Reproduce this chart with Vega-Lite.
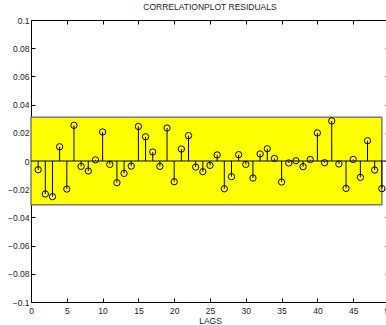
{
  "$schema": "https://vega.github.io/schema/vega-lite/v6.json",
  "autosize": "none",
  "width": 358,
  "height": 282,
  "padding": {"left": 31, "top": 20, "right": 0, "bottom": 23},
  "background": "white",
  "config": {
    "view": {"stroke": "black", "strokeWidth": 1},
    "font": "Liberation Sans",
    "axis": {"grid": false, "labelOverlap": false, "domainColor": "black", "tickColor": "black", "labelColor": "#222", "labelFont": "Liberation Sans", "labelFontSize": 8.5, "titleFont": "Liberation Sans", "titleFontSize": 8.5, "titleFontWeight": "normal", "titleColor": "#222"}
  },
  "title": {"text": "CORRELATIONPLOT RESIDUALS", "fontSize": 8.5, "fontWeight": "normal", "font": "Liberation Sans", "color": "#222", "offset": 5},
  "datasets": {
    "acf": [
      {"lag": 1, "r": -0.0062},
      {"lag": 2, "r": -0.0234},
      {"lag": 3, "r": -0.0253},
      {"lag": 4, "r": 0.0101},
      {"lag": 5, "r": -0.0199},
      {"lag": 6, "r": 0.0253},
      {"lag": 7, "r": -0.0038},
      {"lag": 8, "r": -0.0071},
      {"lag": 9, "r": 0.0008},
      {"lag": 10, "r": 0.0206},
      {"lag": 11, "r": -0.0024},
      {"lag": 12, "r": -0.0154},
      {"lag": 13, "r": -0.0088},
      {"lag": 14, "r": -0.0036},
      {"lag": 15, "r": 0.0245},
      {"lag": 16, "r": 0.0172},
      {"lag": 17, "r": 0.0064},
      {"lag": 18, "r": -0.0038},
      {"lag": 19, "r": 0.0234},
      {"lag": 20, "r": -0.0147},
      {"lag": 21, "r": 0.0085},
      {"lag": 22, "r": 0.018},
      {"lag": 23, "r": -0.0043},
      {"lag": 24, "r": -0.0076},
      {"lag": 25, "r": -0.0031},
      {"lag": 26, "r": 0.0043},
      {"lag": 27, "r": -0.0197},
      {"lag": 28, "r": -0.0111},
      {"lag": 29, "r": 0.0045},
      {"lag": 30, "r": -0.0024},
      {"lag": 31, "r": -0.0121},
      {"lag": 32, "r": 0.005},
      {"lag": 33, "r": 0.0087},
      {"lag": 34, "r": 0.0018},
      {"lag": 35, "r": -0.0149},
      {"lag": 36, "r": -0.0014},
      {"lag": 37, "r": 0.0002},
      {"lag": 38, "r": -0.004},
      {"lag": 39, "r": 0.001},
      {"lag": 40, "r": 0.0199},
      {"lag": 41, "r": -0.0012},
      {"lag": 42, "r": 0.0284},
      {"lag": 43, "r": -0.0021},
      {"lag": 44, "r": -0.0194},
      {"lag": 45, "r": 0.0011},
      {"lag": 46, "r": -0.0116},
      {"lag": 47, "r": 0.0144},
      {"lag": 48, "r": -0.0064},
      {"lag": 49, "r": -0.0196}
    ]
  },
  "resolve": {"axis": {"x": "independent", "y": "independent"}},
  "layer": [
    {
      "data": {"values": [{"x0": 0, "x1": 49, "lo": -0.031, "hi": 0.031}]},
      "mark": {"type": "rect", "fill": "#ffff00", "stroke": "#7a7a7a", "strokeWidth": 1.5},
      "encoding": {
        "x": {"field": "x0", "type": "quantitative", "scale": {"domain": [0, 50], "nice": false},
          "axis": {"orient": "bottom", "title": "LAGS", "values": [0,5,10,15,20,25,30,35,40,45,50], "format": "d", "tickSize": -4, "labelPadding": 8, "titlePadding": 2, "labelFlush": false}},
        "x2": {"field": "x1"},
        "y": {"field": "lo", "type": "quantitative", "scale": {"domain": [-0.1, 0.1], "nice": false},
          "axis": {"orient": "left", "title": null, "values": [-0.1,-0.08,-0.06,-0.04,-0.02,0,0.02,0.04,0.06,0.08,0.1], "format": "~g", "tickSize": -4, "labelPadding": 6}},
        "y2": {"field": "hi"}
      }
    },
    {
      "data": {"values": [{"x0": 0, "x1": 50, "y": 0}]},
      "mark": {"type": "rule", "color": "black", "strokeWidth": 1},
      "encoding": {
        "x": {"field": "x0", "type": "quantitative", "axis": null},
        "x2": {"field": "x1"},
        "y": {"field": "y", "type": "quantitative", "axis": null}
      }
    },
    {
      "data": {"name": "acf"},
      "mark": {"type": "rule", "color": "black", "strokeWidth": 1},
      "encoding": {
        "x": {"field": "lag", "type": "quantitative", "axis": null},
        "y": {"field": "r", "type": "quantitative", "axis": null},
        "y2": {"datum": 0}
      }
    },
    {
      "data": {"name": "acf"},
      "mark": {"type": "point", "shape": "circle", "filled": false, "stroke": "black", "strokeWidth": 1, "size": 40, "opacity": 1},
      "encoding": {
        "x": {"field": "lag", "type": "quantitative",
          "axis": {"orient": "top", "title": null, "labels": false, "domain": false, "values": [0,5,10,15,20,25,30,35,40,45,50], "tickSize": -4}},
        "y": {"field": "r", "type": "quantitative",
          "axis": {"orient": "right", "title": null, "labels": false, "domain": false, "values": [-0.1,-0.08,-0.06,-0.04,-0.02,0,0.02,0.04,0.06,0.08,0.1], "tickSize": -4}}
      }
    }
  ]
}
